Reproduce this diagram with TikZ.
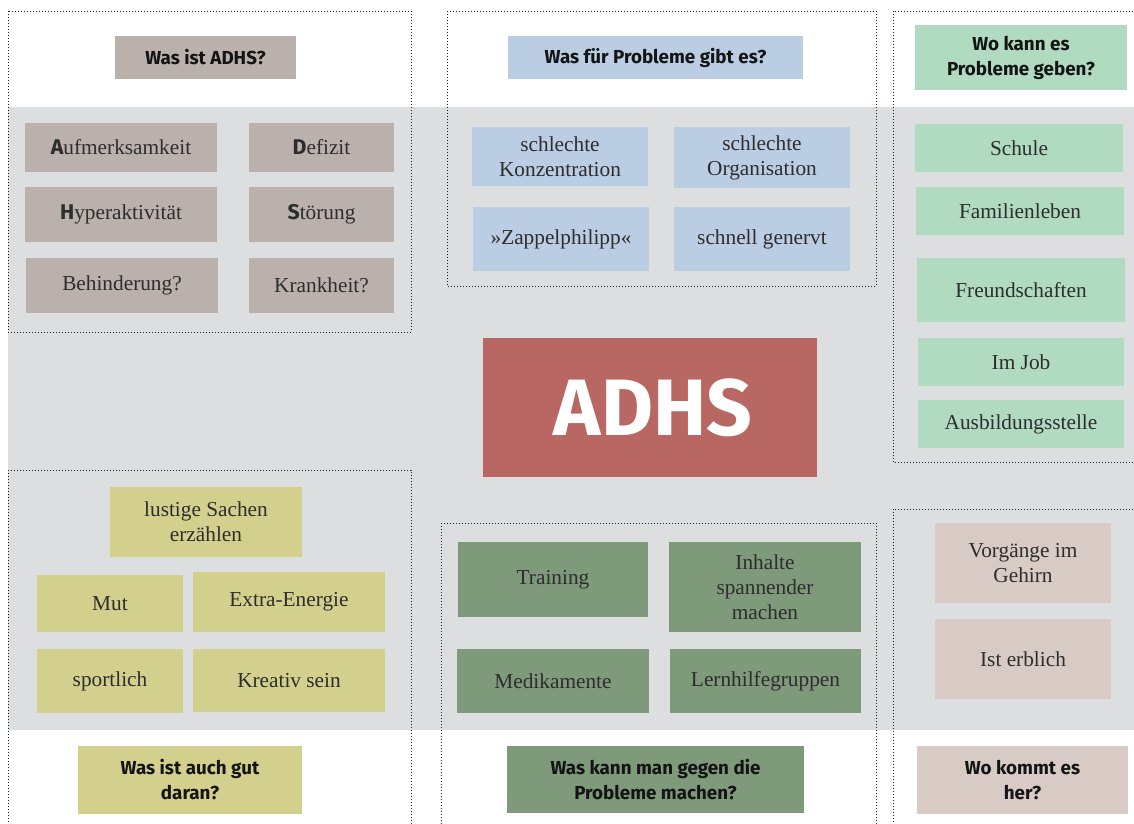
\documentclass[tikz,border=0pt]{standalone}
\usepackage{fontspec}
\setmainfont{Liberation Serif}
\newfontfamily\headfont{Fira Sans}
\definecolor{bandgray}{RGB}{221,222,224}
\definecolor{dotc}{RGB}{30,30,30}
\definecolor{txt}{RGB}{45,45,45}
\definecolor{headtxt}{RGB}{20,20,20}
\definecolor{cWas}{RGB}{186,176,172}
\definecolor{cProb}{RGB}{187,205,227}
\definecolor{cWo}{RGB}{176,219,192}
\definecolor{cGut}{RGB}{211,208,141}
\definecolor{cGegen}{RGB}{126,154,123}
\definecolor{cHer}{RGB}{216,203,198}
\definecolor{cAdhs}{RGB}{184,103,98}
\newcommand{\ini}[1]{{\headfont\bfseries #1}}
\tikzset{
  box/.style={inner sep=0pt, outer sep=0pt, align=center, text=txt,
    font=\fontsize{21.3}{25}\selectfont},
  headbox/.style={inner sep=0pt, outer sep=0pt, align=center, text=headtxt,
    font=\headfont\bfseries\fontsize{18.8}{25}\selectfont},
  dotbox/.style={draw=dotc, line width=0.9pt, dash pattern=on 0.9pt off 2.1pt},
}
\begin{document}
\begin{tikzpicture}[x=1pt,y=-1pt]
\useasboundingbox (0,0) rectangle (1134,823);
\clip (0,0) rectangle (1134,823);
\fill[white] (0,0) rectangle (1134,823);
% gray band
\fill[bandgray] (8,107) rectangle (1140,730);
% dotted frames
\draw[dotbox] (8,11) rectangle (411,332);
\draw[dotbox] (447,11) rectangle (876,286);
\draw[dotbox] (893,11) rectangle (1150,462);
\draw[dotbox] (8,470) rectangle (411,840);
\draw[dotbox] (441,523) rectangle (876,840);
\draw[dotbox] (893,509) rectangle (1150,840);

% headers
\node[headbox, fill=cWas, minimum width=181, minimum height=43] (hA) at (205.5,57.5) {Was ist ADHS?};
\node[headbox, fill=cProb, minimum width=295, minimum height=43] (hP) at (655.5,57.5) {Was für Probleme gibt es?};
\node[headbox, fill=cWo, minimum width=212, minimum height=65] (hW) at (1021,57.5) {Wo kann es\\Probleme geben?};
\node[headbox, fill=cGut, minimum width=224, minimum height=68] (hG) at (190,780) {Was ist auch gut\\daran?};
\node[headbox, fill=cGegen, minimum width=297, minimum height=67] (hM) at (655.5,779.5) {Was kann man gegen die\\Probleme machen?};
\node[headbox, fill=cHer, minimum width=211, minimum height=68] (hH) at (1022.5,780) {Wo kommt es\\her?};

% center
\node[inner sep=0pt, fill=cAdhs, minimum width=334, minimum height=139, text=white,
  font=\headfont\bfseries\fontsize{80}{90}\selectfont] (adhs) at (650,407.5) {\hspace*{6pt}ADHS};

% Was ist ADHS
\node[box, fill=cWas, minimum width=192, minimum height=49] (a1) at (121,147.5) {\ini{A}ufmerksamkeit};
\node[box, fill=cWas, minimum width=145, minimum height=49] (a2) at (321.5,147.5) {\ini{D}efizit};
\node[box, fill=cWas, minimum width=192, minimum height=55] (a3) at (121,214.5) {\ini{H}yperaktivität};
\node[box, fill=cWas, minimum width=145, minimum height=55] (a4) at (321.5,214.5) {\ini{S}törung};
\node[box, fill=cWas, minimum width=192, minimum height=55] (a5) at (122,285.5) {Behinderung?};
\node[box, fill=cWas, minimum width=145, minimum height=55] (a6) at (321.5,285.5) {Krankheit?};

% Probleme
\node[box, fill=cProb, minimum width=176, minimum height=59] (p1) at (560,156.5) {schlechte\\Konzentration};
\node[box, fill=cProb, minimum width=176, minimum height=61] (p2) at (762,157.5) {schlechte\\Organisation};
\node[box, fill=cProb, minimum width=176, minimum height=64] (p3) at (561,239) {»Zappelphilipp«};
\node[box, fill=cProb, minimum width=176, minimum height=64] (p4) at (762,239) {schnell genervt};

% Wo
\node[box, fill=cWo, minimum width=208, minimum height=48] (w1) at (1019,148) {Schule};
\node[box, fill=cWo, minimum width=208, minimum height=48] (w2) at (1020,211) {Familienleben};
\node[box, fill=cWo, minimum width=208, minimum height=64] (w3) at (1021,290) {Freundschaften};
\node[box, fill=cWo, minimum width=206, minimum height=48] (w4) at (1021,362) {Im Job};
\node[box, fill=cWo, minimum width=206, minimum height=48] (w5) at (1021,424) {Ausbildungsstelle};

% Gut
\node[box, fill=cGut, minimum width=192, minimum height=70] (g1) at (206,522) {lustige Sachen\\erzählen};
\node[box, fill=cGut, minimum width=146, minimum height=57] (g2) at (110,603.5) {Mut};
\node[box, fill=cGut, minimum width=192, minimum height=60] (g3) at (289,602) {Extra-Energie};
\node[box, fill=cGut, minimum width=146, minimum height=64] (g4) at (110,681) {sportlich};
\node[box, fill=cGut, minimum width=192, minimum height=63] (g5) at (289,680.5) {Kreativ sein};

% Gegen
\node[box, fill=cGegen, minimum width=190, minimum height=75] (m1) at (553,579.5) {Training};
\node[box, fill=cGegen, minimum width=192, minimum height=90] (m2) at (765,587) {Inhalte\\spannender\\machen};
\node[box, fill=cGegen, minimum width=192, minimum height=64] (m3) at (553,681) {Medikamente};
\node[box, fill=cGegen, minimum width=191, minimum height=64] (m4) at (765.5,681) {Lernhilfegruppen};

% Her
\node[box, fill=cHer, minimum width=176, minimum height=80] (o1) at (1023,563) {Vorgänge im\\Gehirn};
\node[box, fill=cHer, minimum width=176, minimum height=80] (o2) at (1023,659) {Ist erblich};
\end{tikzpicture}
\end{document}
